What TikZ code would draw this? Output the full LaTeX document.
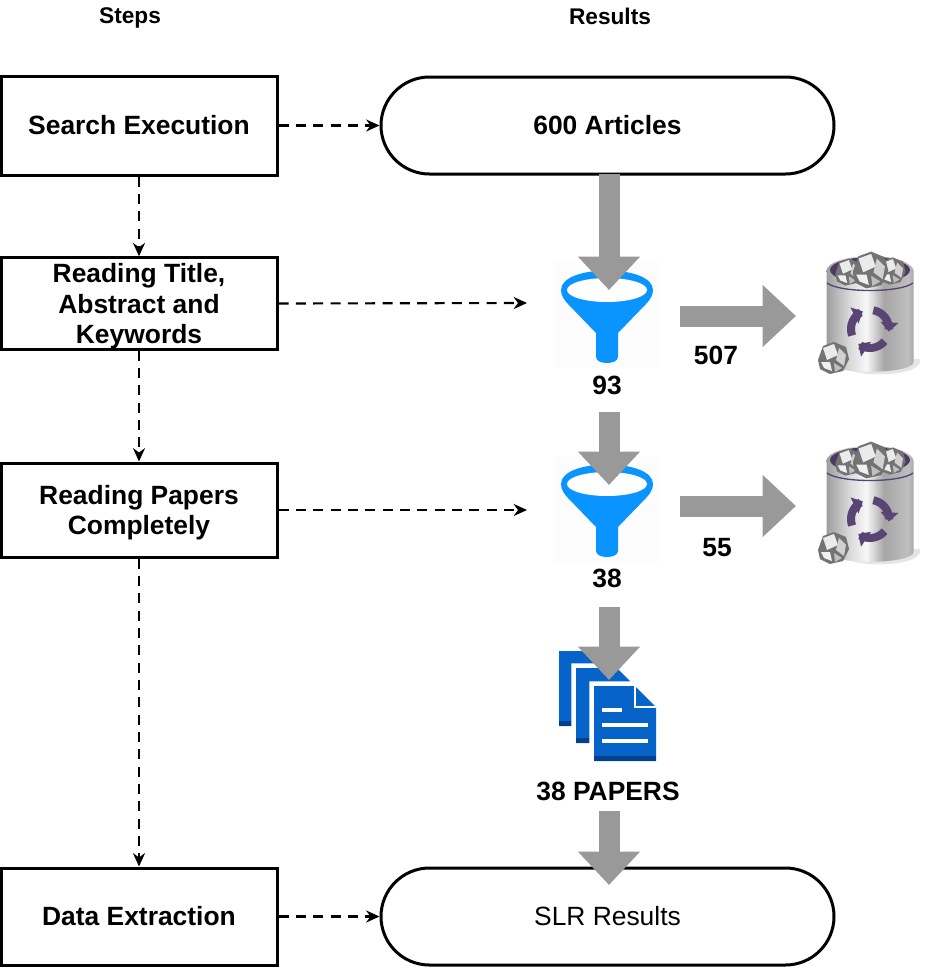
\documentclass[tikz,border=0pt]{standalone}
\usepackage{fontspec}
\setmainfont{Liberation Sans}
\usetikzlibrary{arrows.meta,positioning,shapes.misc}
\definecolor{arrowgray}{HTML}{999999}
\definecolor{funnelblue}{HTML}{0A94FF}
\definecolor{pageblue}{HTML}{0563C9}
\definecolor{pagedark}{HTML}{04408C}
\definecolor{binpurple}{HTML}{5A4473}
\pgfdeclarehorizontalshading{binmetal}{100bp}{
  color(0bp)=(black!45); color(8bp)=(black!25); color(14bp)=(black!5);
  color(24bp)=(black!40); color(38bp)=(black!15); color(48bp)=(black!3);
  color(58bp)=(black!35); color(72bp)=(black!25); color(84bp)=(black!60);
  color(92bp)=(black!70); color(100bp)=(black!35)}
\newcommand{\firstline}{\rule{0pt}{18.5pt}}
\tikzset{font=\fontsize{19.8pt}{23pt}\selectfont}
\tikzset{stepbox/.style={draw,line width=2.25pt,minimum width=207pt,align=center,font=\fontsize{19.8pt}{23pt}\selectfont\bfseries,inner sep=0pt}}
\tikzset{resultbox/.style={draw,rounded rectangle,line width=2.25pt,minimum width=339.75pt,minimum height=72.75pt,inner sep=0pt}}
\tikzset{steparrow/.style={line width=1.6pt,dash pattern=on 7.5pt off 5.5pt,-{Stealth[length=10pt,width=9pt]}}}
\tikzset{bigarrow/.style={arrowgray,line width=15.75pt,-{Triangle[length=25pt,width=45pt]}}}
\tikzset{boldlabel/.style={font=\fontsize{19.8pt}{23pt}\selectfont\bfseries,inner sep=0pt}}
\tikzset{headlabel/.style={font=\fontsize{17pt}{20pt}\selectfont\bfseries,inner sep=0pt}}
\tikzset{
  filterpic/.pic={
    \fill[black!1] (-52,-53) rectangle (53,53);
    \fill[funnelblue] (-46,-25) .. controls (-46,-51) and (46,-51) .. (46,-25)
      .. controls (46,-20) and (43,-15) .. (39,-11) -- (11,18) -- (11,42)
      .. controls (11,50) and (-11,50) .. (-11,42) -- (-11,18) -- (-39,-11)
      .. controls (-43,-15) and (-46,-20) .. (-46,-25) -- cycle;
    \fill[white] (0,-25) ellipse [x radius=40,y radius=12];
  },
  paperball/.pic={
    \fill[black!55] (-15,2) -- (-10,-12) -- (1,-16) -- (13,-11) -- (16,1) -- (10,13) -- (-3,16) -- (-13,11) -- cycle;
    \fill[black!8] (-10,-10) -- (1,-14) -- (5,-3) -- (-6,2) -- cycle;
    \fill[black!18] (6,-10) -- (13,-3) -- (11,8) -- (3,2) -- cycle;
    \fill[black!6] (-12,4) -- (-3,4) -- (-1,13) -- (-9,10) -- cycle;
    \fill[black!25] (1,5) -- (9,10) -- (2,14) -- cycle;
  },
  trashpic/.pic={
    \fill[black!10] (-30,47) .. controls (-30,64) and (55,64) .. (50,44) -- cycle;
    \shade[shading=binmetal] (-43.5,-44) -- (-43.5,47) .. controls (-43.5,60) and (43.5,60) .. (43.5,47)
      -- (43.5,-44) -- cycle;
    \shade[shading=binmetal] (0,-44) ellipse [x radius=43.5,y radius=15];
    \fill[binpurple!85!black] (0,-45) ellipse [x radius=40,y radius=13];
    \draw[binpurple,line width=1pt] (-43,-32) .. controls (-30,-22) and (30,-22) .. (43,-32);
    \pic at (-22,-43) [scale=.85] {paperball};
    \pic at (22,-44) [scale=.85] {paperball};
    \pic at (0,-45) [scale=1.15] {paperball};
    \foreach \a in {40,160,280}
      \draw[binpurple,line width=6pt,-{Triangle[length=7pt,width=13pt]}]
        plot[domain=\a:\a+88,samples=12] ({19*cos(\x)},{14+19*sin(\x)});
    \pic at (-37,43) {paperball};
  },
  paperspic/.pic={
    \foreach \dx/\dy in {0/0,17/17,35/35} {
      \draw[white,line width=7pt] (\dx,\dy) -- ({\dx+41},\dy) -- ({\dx+62},{\dy+21})
        -- ({\dx+62},{\dy+75}) -- (\dx,{\dy+75}) -- cycle;
      \fill[pageblue] (\dx,\dy) -- ({\dx+41},\dy) -- ({\dx+62},{\dy+21})
        -- ({\dx+62},{\dy+75}) -- (\dx,{\dy+75}) -- cycle;
      \fill[pagedark] (\dx,{\dy+70}) rectangle ({\dx+62},{\dy+75});
    }
    \fill[white] (43,57) rectangle (63,61);
    \fill[white] (43,72) rectangle (89,76);
    \fill[white] (43,88) rectangle (89,92);
    \draw[white,line width=.8pt] (76,35) -- (76,56) -- (97,56);
  }
}

\begin{document}
\begin{tikzpicture}[x=.75pt,y=-.75pt]
  \useasboundingbox (0,0) rectangle (932,968);

  \node[headlabel] (stepshead) at (130,18) {Steps};
  \node[headlabel] (resultshead) at (610,16) {Results};

  \node[stepbox,minimum height=74.25pt] (search) at (139,125.5) {Search Execution};
  \node[stepbox,minimum height=68.25pt] (title) at (139,303.5) {\firstline Reading Title,\\Abstract and\\Keywords};
  \node[stepbox,minimum height=70.5pt] (papers) at (139,510) {\firstline Reading Papers\\Completely};
  \node[stepbox,minimum height=72.75pt] (extract) at (139,916.5) {Data Extraction};

  \node[resultbox,font=\fontsize{19.8pt}{23pt}\selectfont\bfseries] (articles) at (607.5,125.5) {600 Articles};
  \node[resultbox] (slr) at (607.5,916.5) {SLR Results};

  \pic at (607,315) {filterpic};
  \pic at (607,509) {filterpic};
  \pic at (870,315) {trashpic};
  \pic at (870,505) {trashpic};
  \pic at (559,651) {paperspic};

  \node[boldlabel] (numa) at (607,385) {93};
  \node[boldlabel] (numb) at (607,578) {38};
  \node[boldlabel] (numc) at (716,355) {507};
  \node[boldlabel] (numd) at (717,548) {55};
  \node[boldlabel] (docs) at (608,791) {38 PAPERS};

  \coordinate (filtera) at (527,303);
  \coordinate (filterb) at (527,510);
  \coordinate (tipa) at (609,290);
  \coordinate (taila) at (609,174);
  \coordinate (tipb) at (609,485);
  \coordinate (tailb) at (609,412);
  \coordinate (tipc) at (609,680);
  \coordinate (tailc) at (609,607);
  \coordinate (tipd) at (609,885);
  \coordinate (taild) at (609,811);
  \coordinate (bina) at (796,316);
  \coordinate (binb) at (796,506);
  \coordinate (outa) at (680,316);
  \coordinate (outb) at (680,506);

  \draw[steparrow] (search) -- (articles);
  \draw[steparrow] (extract) -- (slr);
  \draw[steparrow] (title.east) -- (filtera);
  \draw[steparrow] (papers.east) -- (filterb);
  \draw[steparrow] (search) -- (title);
  \draw[steparrow] (title) -- (papers);
  \draw[steparrow] (papers) -- (extract);

  \draw[bigarrow] (taila) -- (tipa);
  \draw[bigarrow] (tailb) -- (tipb);
  \draw[bigarrow] (tailc) -- (tipc);
  \draw[bigarrow] (taild) -- (tipd);
  \draw[bigarrow] (outa) -- (bina);
  \draw[bigarrow] (outb) -- (binb);
\end{tikzpicture}
\end{document}
